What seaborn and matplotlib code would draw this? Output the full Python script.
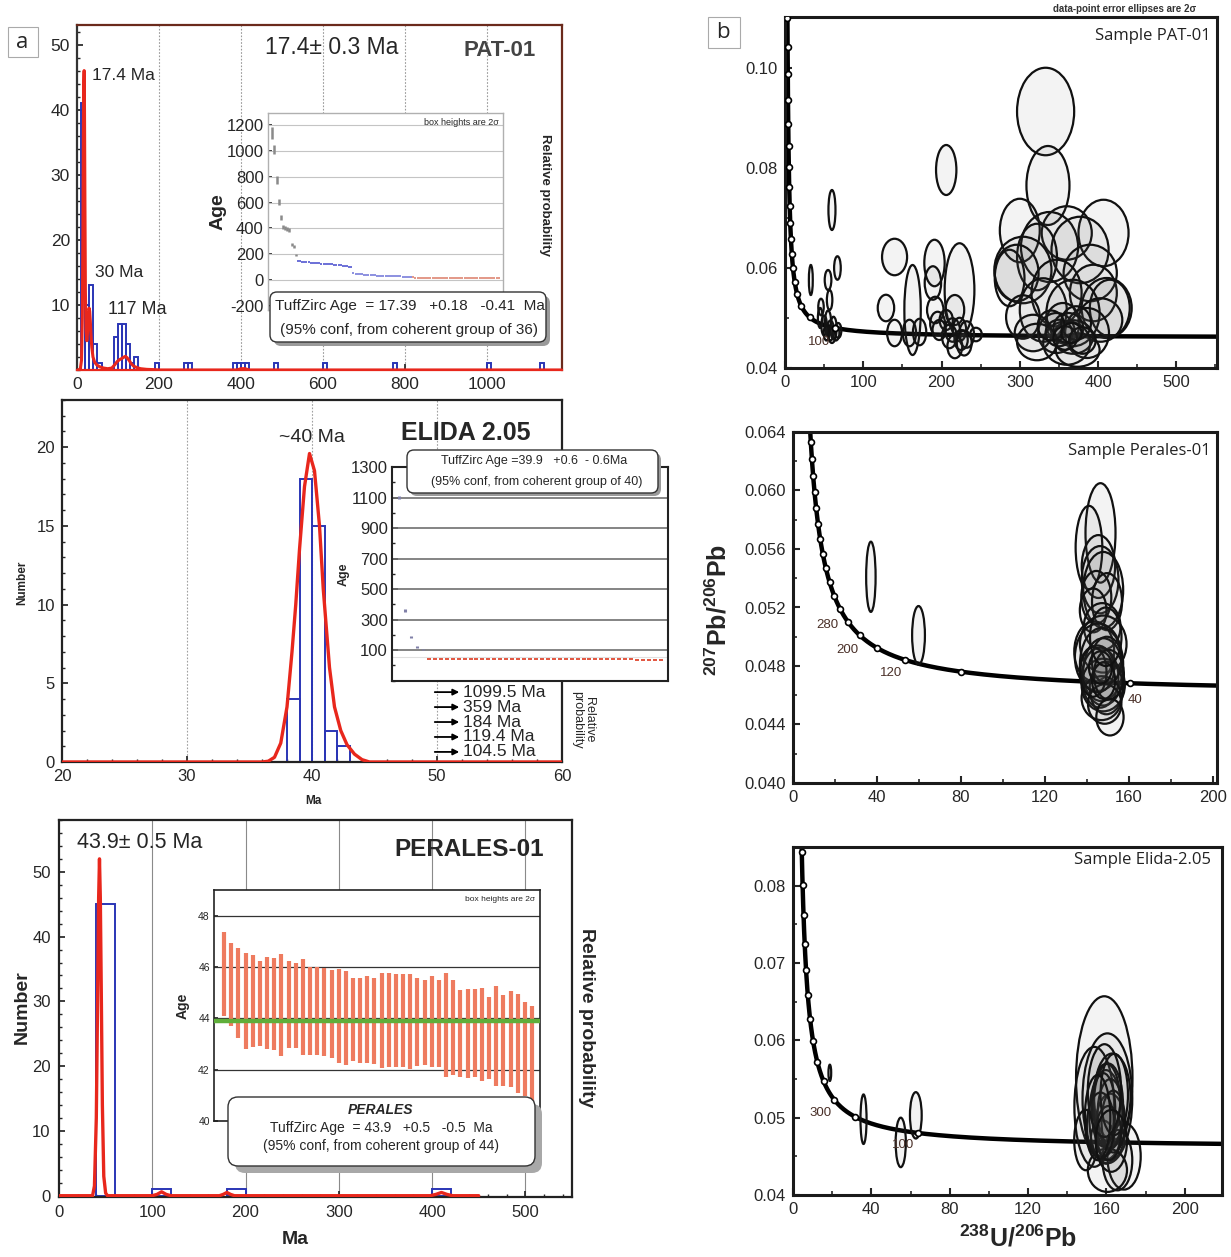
import numpy as np
import pandas as pd
import matplotlib
matplotlib.use("Agg")
import matplotlib.pyplot as plt
import seaborn as sns
from matplotlib.patches import Ellipse, FancyBboxPatch, Rectangle
from matplotlib.ticker import MultipleLocator, FormatStrFormatter

sns.set_theme(style="white")
plt.rcParams["font.family"] = ["Liberation Sans", "DejaVu Sans"]
plt.rcParams["mathtext.fontset"] = "custom"
plt.rcParams["mathtext.rm"] = "Liberation Sans"
plt.rcParams["mathtext.bf"] = "Liberation Sans:bold"
plt.rcParams["axes.unicode_minus"] = False

# ------------------------------------------------------------------ data
# PAT-01 histogram (10 Ma bins, left edges) and probability curve
pat_bin_left = [10, 20, 30, 40, 50, 90, 100, 110, 120, 130, 140, 190, 260, 270,
                380, 390, 400, 410, 480, 600, 770, 1000, 1130]
pat_counts = [41, 10, 13, 4, 1, 5, 7, 7, 4, 1, 2, 1, 1, 1, 1, 1, 1, 1, 1, 1, 1, 1, 1]
pat_curve_x = [0, 8, 11, 13, 14.5, 15.5, 16.5, 17.4, 18.3, 19.3, 20.5, 22, 24, 26, 28, 29.5,
               31, 32.5, 34, 36, 39, 43, 48, 55, 65, 75, 85, 92, 98, 104, 110, 115, 118, 122,
               127, 132, 138, 145, 155, 170, 190, 200, 390, 400, 410, 420, 1200]
pat_curve_y = [0, 0.1, 1.5, 8, 22, 36, 44, 46, 40, 26, 12, 6, 4.5, 6, 8.5, 9.5, 9, 7.5, 5.5,
               3.5, 2, 1.2, 0.8, 0.5, 0.3, 0.2, 0.3, 0.8, 1.3, 1.6, 1.8, 2.0, 2.1, 1.9, 1.5,
               1.0, 0.6, 0.4, 0.2, 0.1, 0.05, 0, 0, 0.2, 0.2, 0, 0]
# PAT-01 ranked ages (inset)
pat_old_age = [1140, 1010, 775, 605, 485, 410, 402, 395, 388, 272, 262, 195]
pat_old_err = [45, 35, 30, 25, 22, 15, 15, 15, 15, 12, 12, 10]
pat_mid_age = [150, 146, 143, 141, 139, 137, 135, 133, 131, 129, 128, 127, 126, 125, 124,
               122, 121, 120, 118, 116, 114, 112, 110, 107, 103, 98]
pat_young_age = [55, 50, 47, 45, 43, 41, 40, 39, 38, 37, 36, 35, 34, 33, 32, 32, 31, 31, 30,
                 30, 29, 28, 28, 27, 26, 25, 24, 22]
pat_group_age = [19.8, 19.5, 19.2, 19.0, 18.8, 18.6, 18.4, 18.3, 18.2, 18.1, 18.0, 17.9, 17.8,
                 17.7, 17.6, 17.5, 17.5, 17.4, 17.4, 17.3, 17.3, 17.2, 17.2, 17.1, 17.1, 17.0,
                 17.0, 16.9, 16.9, 16.8, 16.7, 16.6, 16.5, 16.4, 16.3, 16.2, 16.0, 15.8, 15.6,
                 15.4, 15.1]

# ELIDA 2.05 histogram (1 Ma bins) and probability curve
eli_bin_left = [38, 39, 40, 41, 42]
eli_counts = [4, 18, 15, 2, 1]
eli_curve_x = [20, 36, 36.5, 37, 37.5, 38, 38.4, 38.7, 39, 39.4, 39.8, 40.2, 40.6, 40.9, 41.4,
               41.8, 42.3, 42.8, 43.4, 44, 44.6, 60]
eli_curve_y = [0, 0, 0.05, 0.3, 1.2, 3.5, 7, 10, 13.5, 17.5, 19.6, 18.5, 15, 11, 6, 3.5, 2,
               1.1, 0.5, 0.15, 0, 0]
eli_old_age = [1099.5, 359, 184, 119.4, 104.5]
eli_old_labels = ["1099.5 Ma", "359 Ma", "184 Ma", "119.4 Ma", "104.5 Ma"]
eli_group_age = [43.5, 43.0, 42.6, 42.3, 42.0, 41.8, 41.6, 41.4, 41.2, 41.0, 40.9, 40.8, 40.6,
                 40.5, 40.4, 40.3, 40.2, 40.1, 40.0, 39.9, 39.8, 39.7, 39.6, 39.5, 39.4, 39.3,
                 39.2, 39.1, 39.0, 38.9, 38.8, 38.6, 38.5, 38.3, 38.1, 37.9, 37.7, 37.4, 37.0,
                 36.5]

# PERALES-01 histogram (20 Ma bins) and probability curve
per_bin_left = [40, 100, 180, 400]
per_counts = [45, 1, 1, 1]
per_curve_x = [0, 36, 38, 40, 41.5, 42.5, 43.4, 44.3, 45.3, 46.5, 48, 50, 52, 100, 105, 110,
               115, 120, 172, 176, 180, 184, 188, 398, 404, 410, 416, 422, 450]
per_curve_y = [0, 0, 1.5, 12, 32, 46, 52, 46, 32, 14, 3, 0.4, 0, 0, 0.2, 0.6, 0.2, 0, 0, 0.2,
               0.5, 0.2, 0, 0, 0.2, 0.5, 0.2, 0, 0]
# PERALES 2-sigma boxes (top / bottom)
per_top = [47.35, 46.94, 46.75, 46.55, 46.46, 46.23, 46.40, 46.36, 46.52, 46.23, 46.14, 46.33,
           46.00, 46.00, 45.97, 45.90, 45.92, 45.83, 45.57, 45.57, 45.64, 45.57, 45.77, 45.77,
           45.71, 45.71, 45.71, 45.57, 45.48, 45.64, 45.51, 45.77, 45.51, 45.10, 45.16, 45.14,
           45.19, 44.85, 45.27, 44.92, 45.05, 44.96, 44.62, 44.50]
per_bot = [44.10, 43.72, 43.23, 42.81, 42.88, 42.94, 42.80, 42.76, 42.55, 42.83, 42.83, 42.57,
           42.57, 42.57, 42.55, 42.45, 42.26, 42.20, 42.32, 42.26, 42.26, 42.23, 42.06, 42.10,
           42.10, 42.10, 42.03, 42.13, 42.20, 42.10, 42.10, 41.73, 41.80, 41.73, 41.67, 41.73,
           41.55, 41.62, 41.35, 41.35, 41.32, 41.10, 40.97, 40.72]
per_mean = 43.9

# Tera-Wasserburg error ellipses: centre x, centre y, full width, full height
pat_ex = [333, 336, 300, 407, 360, 338, 377, 322, 304, 287, 296, 390, 394, 347, 411, 415, 330,
          368, 403, 304, 355, 386, 347, 317, 368, 360, 322, 374, 350, 362, 372, 340, 358, 380,
          366, 206, 60, 67, 33, 55, 57, 46, 45, 50, 55, 58, 62, 65, 68, 53, 60, 140, 129, 140,
          163, 159, 172, 191, 189, 223, 217, 192, 195, 206, 214, 223, 232, 244, 225, 210, 197,
          217, 229]
pat_ey = [0.0913, 0.0765, 0.0675, 0.0670, 0.0670, 0.0642, 0.0636, 0.0622, 0.0596, 0.0580,
          0.0590, 0.0590, 0.0550, 0.0550, 0.0520, 0.0520, 0.0516, 0.0510, 0.0496, 0.0502,
          0.0490, 0.0470, 0.0470, 0.0470, 0.0462, 0.0450, 0.0452, 0.0436, 0.0470, 0.0480,
          0.0490, 0.0485, 0.0460, 0.0455, 0.0470, 0.0796, 0.0716, 0.0600, 0.0576, 0.0576,
          0.0536, 0.0522, 0.0500, 0.0485, 0.0490, 0.0475, 0.0480, 0.0470, 0.0475, 0.0470,
          0.0465, 0.0622, 0.0520, 0.0470, 0.0516, 0.0470, 0.0472, 0.0610, 0.0570, 0.0556,
          0.0516, 0.0516, 0.0489, 0.0496, 0.0476, 0.0477, 0.0467, 0.0467, 0.0456, 0.0463,
          0.0476, 0.0443, 0.0450]
pat_ew = [73, 55, 51, 64, 64, 73, 73, 51, 73, 38, 56, 68, 60, 64, 64, 51, 60, 68, 56, 43, 43,
          56, 47, 47, 51, 60, 51, 56, 34, 38, 38, 34, 30, 34, 26, 26, 9, 8.5, 5, 8.5, 7, 7, 6,
          7, 8, 9, 8, 9, 8, 7, 9, 32, 21, 19, 21, 17, 17, 26, 21, 38, 24, 21, 19, 17, 19, 17,
          19, 15, 17, 19, 17, 19, 19]
pat_eh = [0.0175, 0.0158, 0.0127, 0.0133, 0.0107, 0.0140, 0.0133, 0.0133, 0.0133, 0.0113,
          0.0113, 0.0113, 0.0113, 0.0133, 0.0120, 0.0113, 0.0127, 0.0133, 0.0087, 0.0087,
          0.0080, 0.0100, 0.0080, 0.0073, 0.0067, 0.0087, 0.0073, 0.0067, 0.0053, 0.0060,
          0.0067, 0.0060, 0.0047, 0.0053, 0.0040, 0.0100, 0.0080, 0.0047, 0.0060, 0.0040,
          0.0040, 0.0033, 0.0040, 0.0040, 0.0050, 0.0040, 0.0045, 0.0030, 0.0030, 0.0030,
          0.0030, 0.0073, 0.0053, 0.0053, 0.0180, 0.0053, 0.0053, 0.0093, 0.0067, 0.0187,
          0.0060, 0.0053, 0.0047, 0.0040, 0.0047, 0.0047, 0.0053, 0.0027, 0.0040, 0.0047,
          0.0040, 0.0047, 0.0050]

per_ex = [37.1, 59.8, 146.5, 141.0, 145.5, 146.3, 147.8, 144.5, 149.6, 143.0, 147.3, 143.5,
          147.8, 145.4, 147.0, 147.8, 146.3, 147.8, 149.3, 147.0, 148.5, 145.0, 149.5, 143.0,
          150.5, 148.0, 146.5, 149.0, 151.0]
per_ey = [0.0541, 0.0501, 0.0571, 0.0561, 0.0548, 0.0539, 0.0532, 0.0527, 0.0524, 0.0518,
          0.0507, 0.0490, 0.0495, 0.0486, 0.0481, 0.0476, 0.0472, 0.0467, 0.0465, 0.0458,
          0.0454, 0.0478, 0.0484, 0.0476, 0.0474, 0.0470, 0.0479, 0.0500, 0.0445]
per_ew = [4.5, 6.1, 14.3, 12.7, 15.9, 17.5, 19.0, 14.3, 14.3, 12.7, 17.5, 19.0, 22.2, 22.2,
          20.6, 19.0, 17.5, 20.6, 15.9, 19.0, 15.9, 15.9, 14.3, 12.7, 14.3, 11.0, 11.0, 15.0,
          13.0]
per_eh = [0.0048, 0.0040, 0.0068, 0.0057, 0.0043, 0.0046, 0.0052, 0.0036, 0.0039, 0.0030,
          0.0032, 0.0041, 0.0039, 0.0046, 0.0050, 0.0046, 0.0041, 0.0036, 0.0036, 0.0030,
          0.0027, 0.0032, 0.0032, 0.0034, 0.0034, 0.0025, 0.0022, 0.0040, 0.0025]

eld_ex = [36.0, 55.0, 62.7, 18.8, 158.9, 160.5, 153.8, 163.0, 159.7, 162.0, 169.0, 165.6,
          149.5, 160.5, 158.0, 161.0, 162.0, 160.0, 163.5, 158.5, 161.0, 157.0, 164.0, 159.0,
          155.5, 162.5]
eld_ey = [0.0498, 0.0468, 0.0503, 0.0558, 0.0551, 0.0525, 0.0514, 0.0527, 0.0501, 0.0488,
          0.0450, 0.0445, 0.0471, 0.0432, 0.0473, 0.0515, 0.0505, 0.0520, 0.0495, 0.0510,
          0.0480, 0.0490, 0.0530, 0.0535, 0.0500, 0.0470]
eld_ew = [3.1, 5.2, 6.0, 1.4, 28.8, 25.4, 20.3, 18.6, 16.9, 15.2, 17.0, 15.2, 11.9, 20.0, 11.9,
          15.0, 13.0, 14.0, 12.0, 12.0, 13.0, 14.0, 14.0, 17.0, 13.0, 16.0]
eld_eh = [0.0064, 0.0064, 0.0060, 0.0021, 0.0212, 0.0168, 0.0155, 0.0112, 0.0121, 0.0086,
          0.0086, 0.0078, 0.0078, 0.0056, 0.0047, 0.0110, 0.0090, 0.0100, 0.0080, 0.0095,
          0.0070, 0.0085, 0.0105, 0.0120, 0.0110, 0.0080]

# concordia age marks (Ma)
pat_marks = list(range(100, 2100, 100))
per_marks = list(range(40, 1000, 40))
eld_marks = list(range(100, 2100, 100))

# ------------------------------------------------------------------ helpers
W, H = 1231, 1257
fig = plt.figure(figsize=(W / 100, H / 100), dpi=100)
fig.patch.set_facecolor("white")


def axpx(x0, y0, x1, y1):
    return fig.add_axes([x0 / W, 1 - y1 / H, (x1 - x0) / W, (y1 - y0) / H])


def fx(px):
    return px / W


def fy(py):
    return 1 - py / H


def ftext(px, py, s, **kw):
    kw.setdefault("ha", "center")
    kw.setdefault("va", "center")
    kw.setdefault("zorder", 10)
    return fig.text(fx(px), fy(py), s, **kw)


def rbox(x0, y0, x1, y1, shadow=4, rad=7, shadow_color="#9a9a9a", lw=1.0):
    bs = f"round,pad=0,rounding_size={rad / W}"
    sh = FancyBboxPatch((fx(x0 + shadow), fy(y1 + shadow)), (x1 - x0) / W, (y1 - y0) / H,
                        boxstyle=bs, transform=fig.transFigure, fc=shadow_color, ec="none",
                        zorder=8)
    bx = FancyBboxPatch((fx(x0), fy(y1)), (x1 - x0) / W, (y1 - y0) / H, boxstyle=bs,
                        transform=fig.transFigure, fc="white", ec="#333333", lw=lw, zorder=9)
    fig.patches.extend([sh, bx])


def spines(ax, lw=1.2, color="black"):
    for s in ax.spines.values():
        s.set_visible(True)
        s.set_linewidth(lw)
        s.set_color(color)


def hist(ax, left, counts, width, edges):
    df = pd.DataFrame({"age": np.asarray(left, dtype=float) + width / 2,
                       "n": np.asarray(counts, dtype=float)})
    sns.histplot(data=df, x="age", weights="n", bins=[float(e) for e in edges], fill=False,
                 color="#2a35b5", linewidth=1.4, ax=ax, element="bars")
    for p in ax.patches:
        p.set_zorder(2)
        if p.get_height() == 0:
            p.set_visible(False)
    ax.set_xlabel("")
    ax.set_ylabel("")


RED = "#e8271c"
L238, L235, U85 = 1.55125e-4, 9.8485e-4, 137.88


def concordia(ages):
    t = np.asarray(ages, dtype=float)
    e8 = np.exp(L238 * t) - 1
    e5 = np.exp(L235 * t) - 1
    return 1 / e8, e5 / (U85 * e8)


curve_ages = np.geomspace(1, 4500, 2500)

# ================================================================== a1 PAT-01
ax1 = axpx(77, 25, 562, 370)
ax1.set_facecolor("white")
hist(ax1, pat_bin_left, pat_counts, 10, range(0, 1210, 10))
for v in [200, 400, 600, 800, 1000]:
    ax1.axvline(v, color="#9a9a9a", lw=0.8, ls=(0, (1.5, 1.5)), zorder=0)
sns.lineplot(x=pat_curve_x, y=pat_curve_y, color=RED, linewidth=2.2, ax=ax1,
             estimator=None, sort=False, zorder=3)
ax1.set_xlim(0, 1183)
ax1.set_ylim(0, 53)
ax1.set_yticks([10, 20, 30, 40, 50])
ax1.yaxis.set_minor_locator(MultipleLocator(2))
ax1.set_xticks([0, 200, 400, 600, 800, 1000])
ax1.tick_params(direction="in", labelsize=12.5, length=4, pad=5, left=True, bottom=True)
ax1.tick_params(which="minor", direction="in", length=2, left=True)
spines(ax1, 1.6, "#6b2a1c")
ax1.spines["left"].set_color("#333333")
ax1.spines["bottom"].set_color(RED)

ftext(332, 48, "17.4± 0.3 Ma", fontsize=16.5)
ftext(500, 50, "PAT-01", fontsize=16, fontweight="bold", color="#444444")
ftext(92, 76, "17.4 Ma", fontsize=12.5, ha="left")
ftext(95, 272, "30 Ma", fontsize=12.5, ha="left")
ftext(108, 310, "117 Ma", fontsize=13, ha="left")
ftext(545, 195, "Relative probability", fontsize=9.5, fontweight="bold", rotation=-90)

# inset
ai1 = axpx(268, 113, 503, 310)
ai1.set_facecolor("white")
n_old = len(pat_old_age)
i_mid = np.arange(n_old, n_old + len(pat_mid_age))
i_young = np.arange(i_mid[-1] + 1, i_mid[-1] + 1 + len(pat_young_age))
i_grp = np.arange(i_young[-1] + 1, i_young[-1] + 1 + len(pat_group_age))
ai1.errorbar(np.arange(n_old), pat_old_age, yerr=pat_old_err, fmt="none", ecolor="#8a8a8a",
             elinewidth=1.8, zorder=3)
sns.scatterplot(x=i_mid, y=pat_mid_age, marker="s", s=4, color="#6f73d8", linewidth=0, ax=ai1,
                zorder=3)
sns.scatterplot(x=i_young, y=pat_young_age, marker="s", s=4, color="#8f93e0", linewidth=0,
                ax=ai1, zorder=3)
sns.scatterplot(x=i_grp, y=pat_group_age, marker="s", s=4, color="#e39a8a", linewidth=0, ax=ai1,
                zorder=3)
for v in range(-200, 1300, 200):
    ai1.axhline(v, color="#c4c4c4", lw=0.8, zorder=1)
ai1.set_xlim(-2, i_grp[-1] + 2)
ai1.set_ylim(-232, 1293)
ai1.set_yticks(range(-200, 1300, 200))
ai1.set_xticks([])
ai1.tick_params(labelsize=12, direction="in", length=3, pad=3, left=True)
ai1.set_ylabel("Age", fontsize=14, fontweight="bold", labelpad=0)
spines(ai1, 1.0, "#b0b0b0")
ai1.text(0.98, 0.975, "box heights are 2σ", transform=ai1.transAxes, ha="right", va="top",
         fontsize=6.5)
rbox(270, 292, 546, 342, shadow=4)
ftext(410, 306, "TuffZirc Age  = 17.39   +0.18   -0.41  Ma", fontsize=11)
ftext(409, 330, "(95% conf, from coherent group of 36)", fontsize=11)

# ================================================================== a2 ELIDA
ax2 = axpx(62, 400, 562, 762)
ax2.set_facecolor("white")
hist(ax2, eli_bin_left, eli_counts, 1, range(20, 61, 1))
for v in [30, 40, 50]:
    ax2.axvline(v, color="#a0a0a0", lw=0.8, ls=(0, (1.5, 1.5)), zorder=0)
sns.lineplot(x=eli_curve_x, y=eli_curve_y, color=RED, linewidth=2.4, ax=ax2, estimator=None,
             sort=False, zorder=3)
ax2.set_xlim(20, 60)
ax2.set_ylim(0, 23)
ax2.set_yticks([0, 5, 10, 15, 20])
ax2.set_xticks([20, 30, 40, 50, 60])
ax2.xaxis.set_minor_locator(MultipleLocator(2))
ax2.yaxis.set_minor_locator(MultipleLocator(1))
ax2.tick_params(direction="in", labelsize=12, length=4, pad=5, left=True, bottom=True)
ax2.tick_params(which="minor", direction="in", length=2, left=True, bottom=True)
spines(ax2, 1.6, "#222222")
ftext(22, 583, "Number", fontsize=8.5, fontweight="bold", rotation=90)
ftext(313, 801, "Ma", fontsize=8.5, fontweight="bold")
ftext(312, 438, "~40 Ma", fontsize=14)
ftext(466, 433, "ELIDA 2.05", fontsize=18, fontweight="bold")
ftext(583, 720, "Relative\nprobability", fontsize=9, rotation=-90, linespacing=1.0)
for k, lab in enumerate(eli_old_labels):
    yk = 4.44 - 0.95 * k
    ax2.annotate("", xy=(52.0, yk), xytext=(49.6, yk), annotation_clip=False,
                 arrowprops=dict(arrowstyle="-|>", color="black", lw=1.3, mutation_scale=9))
    ax2.text(52.05, yk, lab, fontsize=12.5, va="center", ha="left", clip_on=False)

ai2 = axpx(392, 467, 668, 681)
ai2.set_facecolor("white")
ai2.errorbar(np.arange(len(eli_old_age)), eli_old_age, yerr=[12, 8, 6, 4, 4], fmt="none",
             ecolor="#8080a8", elinewidth=2.2, zorder=3)
ig = np.arange(len(eli_old_age), len(eli_old_age) + len(eli_group_age))
sns.scatterplot(x=ig, y=eli_group_age, marker="_", s=8, color="#e2553f", linewidth=1.4,
                ax=ai2, zorder=3)
for v in range(100, 1300, 200):
    ai2.axhline(v, color="#707070", lw=1.2, zorder=1)
ai2.axhline(55, color="#e0e0e0", lw=0.8, zorder=1)
ai2.set_xlim(-1.2, ig[-1] + 1.2)
ai2.set_ylim(-103, 1300)
ai2.set_yticks(range(100, 1400, 200))
ai2.yaxis.set_minor_locator(MultipleLocator(100))
ai2.set_xticks([])
ai2.tick_params(labelsize=12, direction="in", length=4, pad=3, left=True)
ai2.tick_params(which="minor", direction="in", length=2, left=True)
ai2.set_ylabel("Age", fontsize=9, fontweight="bold", labelpad=1)
spines(ai2, 1.5, "#222222")
rbox(407, 450, 658, 493, shadow=3)
ftext(534, 461, "TuffZirc Age =39.9   +0.6  - 0.6Ma", fontsize=9)
ftext(537, 482, "(95% conf, from coherent group of 40)", fontsize=9)

# ================================================================== a3 PERALES
ax3 = axpx(59, 820, 572, 1197)
ax3.set_facecolor("white")
hist(ax3, per_bin_left, per_counts, 20, range(0, 561, 20))
for v in [100, 200, 300, 400, 500]:
    ax3.axvline(v, color="#8a8a8a", lw=0.8, zorder=0)
sns.lineplot(x=per_curve_x, y=per_curve_y, color=RED, linewidth=2.4, ax=ax3, estimator=None,
             sort=False, zorder=3)
ax3.set_xlim(0, 550)
ax3.set_ylim(-0.2, 58)
ax3.set_yticks([0, 10, 20, 30, 40, 50])
ax3.set_xticks([0, 100, 200, 300, 400, 500])
ax3.xaxis.set_minor_locator(MultipleLocator(20))
ax3.yaxis.set_minor_locator(MultipleLocator(2))
ax3.tick_params(direction="in", labelsize=12, length=4, pad=6, left=True, bottom=True)
ax3.tick_params(which="minor", direction="in", length=2, left=True, bottom=True)
spines(ax3, 1.6, "#222222")
ftext(22, 1007, "Number", fontsize=14, fontweight="bold", rotation=90)
ftext(295, 1240, "Ma", fontsize=14, fontweight="bold")
ftext(140, 843, "43.9± 0.5 Ma", fontsize=15.5)
ftext(469, 850, "PERALES-01", fontsize=17.5, fontweight="bold")
ftext(586, 1018, "Relative probability", fontsize=14, fontweight="bold", rotation=-90)

ai3 = axpx(214, 890, 540, 1121)
ai3.set_facecolor("white")
idx = np.arange(len(per_top))
ai3.vlines(idx, per_bot, per_top, color="#ee7b5f", lw=3.0, zorder=3)
ai3.axhline(per_mean, color="#5fae3a", lw=3.2, zorder=4)
for v in [42, 44, 46, 48]:
    ai3.axhline(v, color="#333333", lw=0.9, zorder=1)
ai3.set_xlim(-1.4, 44.1)
ai3.set_ylim(40, 49)
ai3.set_yticks([40, 42, 44, 46, 48])
ai3.set_xticks([])
ai3.tick_params(labelsize=7.5, direction="in", length=3, pad=3, left=True)
ai3.set_ylabel("Age", fontsize=10, fontweight="bold", labelpad=6)
spines(ai3, 1.2, "#222222")
ai3.text(0.985, 0.975, "box heights are 2σ", transform=ai3.transAxes, ha="right", va="top",
         fontsize=6)
rbox(228, 1097, 535, 1166, shadow=7, rad=10, shadow_color="#a8a8a8")
ftext(381, 1110, "PERALES", fontsize=10, fontweight="bold", style="italic")
ftext(381, 1128, "TuffZirc Age  = 43.9   +0.5   -0.5  Ma", fontsize=10)
ftext(381, 1146, "(95% conf, from coherent group of 44)", fontsize=10)

# panel label a
fig.patches.append(Rectangle((fx(8), fy(57)), 30 / W, 30 / H, transform=fig.transFigure,
                             fc="white", ec="#aaaaaa", lw=0.8, zorder=9))
ftext(22, 42, "a", fontsize=16, family=["Open Sans", "DejaVu Sans"])


# ================================================================== b concordia panels
def tw_panel(box, xlim, ylim, xmaj, xmin, ymaj, ymin, yfmt, ex, ey, ew, eh, marks,
             labels, title, ty):
    ax = axpx(*box)
    ax.set_facecolor("white")
    for cx, cy, w, h in zip(ex, ey, ew, eh):
        ax.add_patch(Ellipse((cx, cy), w, h, fc=(0.35, 0.35, 0.35, 0.07), ec="#111111",
                             lw=1.6, zorder=3))
    cxs, cys = concordia(curve_ages)
    sns.lineplot(x=cxs, y=cys, color="black", linewidth=3.2, ax=ax, estimator=None, sort=False,
                 zorder=2)
    mx, my = concordia(marks)
    sns.scatterplot(x=mx, y=my, marker="o", s=18, facecolor="white", edgecolor="black",
                    linewidth=1.2, ax=ax, zorder=4)
    for (lx, ly, s) in labels:
        ax.text(lx, ly, s, fontsize=9.5, color="#4a3028", ha="center", va="center", zorder=5)
    ax.set_xlim(*xlim)
    ax.set_ylim(*ylim)
    ax.xaxis.set_major_locator(MultipleLocator(xmaj))
    ax.xaxis.set_minor_locator(MultipleLocator(xmin))
    ax.yaxis.set_major_locator(MultipleLocator(ymaj))
    ax.yaxis.set_minor_locator(MultipleLocator(ymin))
    ax.yaxis.set_major_formatter(FormatStrFormatter(yfmt))
    ax.tick_params(direction="in", labelsize=12, length=5, width=1.5, pad=5, left=True,
                   bottom=True)
    ax.tick_params(which="minor", direction="in", length=3, width=1.2, left=True, bottom=True)
    spines(ax, 2.2, "#1a1a1a")
    ax.set_xlabel("")
    ax.set_ylabel("")
    ftext(1211, ty, title, fontsize=12, ha="right", family=["Open Sans", "DejaVu Sans"],
          color="#222222")
    return ax


bx1 = tw_panel((785, 17, 1217, 368), (0, 552), (0.04, 0.1102), 100, 50, 0.02, 0.01, "%.2f",
               pat_ex, pat_ey, pat_ew, pat_eh, pat_marks, [(44, 0.0452, "100")],
               "Sample PAT-01", 36)
bx2 = tw_panel((793, 432, 1217, 783), (0, 202), (0.040, 0.064), 40, 20, 0.004, 0.002, "%.3f",
               per_ex, per_ey, per_ew, per_eh, per_marks,
               [(16.2, 0.0508, "280"), (25.7, 0.0491, "200"), (46.6, 0.0475, "120"),
                (163, 0.0457, "40")],
               "Sample Perales-01", 451)
bx3 = tw_panel((793, 847, 1222, 1195), (0, 219), (0.04, 0.085), 40, 20, 0.01, 0.005, "%.2f",
               eld_ex, eld_ey, eld_ew, eld_eh, eld_marks,
               [(14.2, 0.0506, "300"), (56.4, 0.0465, "100")],
               "Sample Elida-2.05", 860)

ftext(718, 610, r"$\mathbf{^{207}Pb/^{206}Pb}$", fontsize=18, rotation=90)
ftext(1018, 1238, r"$\mathbf{^{238}U/^{206}Pb}$", fontsize=18)
ftext(1125, 9, "data-point error ellipses are 2σ", fontsize=7, fontweight="bold",
      color="#333333")
fig.patches.append(Rectangle((fx(708), fy(48)), 32 / W, 31 / H, transform=fig.transFigure,
                             fc="white", ec="#aaaaaa", lw=0.8, zorder=9))
ftext(723, 32, "b", fontsize=16, family=["Open Sans", "DejaVu Sans"])

fig.savefig("out.png", dpi=100, facecolor="white")
